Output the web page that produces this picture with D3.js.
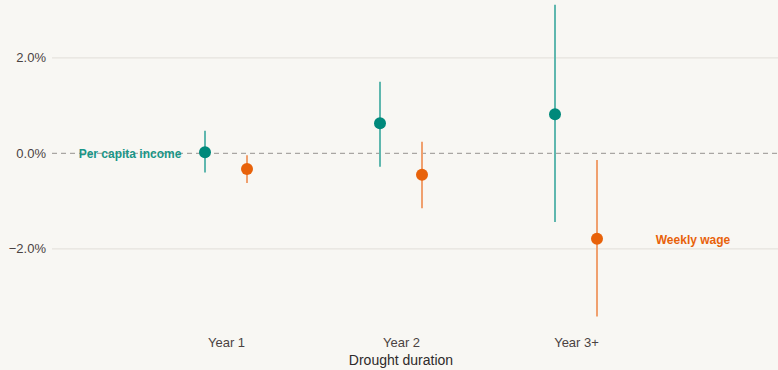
<!DOCTYPE html>
<html>
<head>
<meta charset="utf-8">
<script src="https://cdn.jsdelivr.net/npm/d3@7"></script>
<style>
  html, body { margin: 0; padding: 0; background: #f8f7f3; }
  svg { display: block; font-family: "Liberation Sans", Arial, sans-serif; }
</style>
</head>
<body>
<svg id="chart" width="778" height="370"></svg>
<script>
// Drought duration categories (x positions 1..3)
const categories = ["Year 1", "Year 2", "Year 3+"];

// Per capita income: estimate and 95% interval (percent)
const incomeEst = [0.02, 0.63, 0.82];
const incomeLo  = [-0.40, -0.28, -1.44];
const incomeHi  = [0.47, 1.50, 3.11];

// Weekly wage: estimate and 95% interval (percent)
const wageEst = [-0.33, -0.45, -1.79];
const wageLo  = [-0.62, -1.15, -3.42];
const wageHi  = [-0.04, 0.24, -0.14];

const yTicks = [-2, 0, 2];

const series = [
  { name: "Per capita income", est: incomeEst, lo: incomeLo, hi: incomeHi,
    color: "#00897b", light: "#5fb7ae", offset: -0.12 },
  { name: "Weekly wage", est: wageEst, lo: wageLo, hi: wageHi,
    color: "#e8620a", light: "#f0a06e", offset: 0.12 }
];

const svg = d3.select("#chart");
const W = 778, H = 370;

const x = d3.scaleLinear().domain([0, 4.15]).range([51, 777.25]);
const y = d3.scaleLinear().domain([-3.6, 3.2]).range([325.2, 0.5]);

svg.append("rect").attr("width", W).attr("height", H).attr("fill", "#f8f7f3");

// horizontal grid
svg.append("g").selectAll("line")
  .data(yTicks.filter(d => d !== 0))
  .join("line")
  .attr("x1", 52).attr("x2", W)
  .attr("y1", d => y(d)).attr("y2", d => y(d))
  .attr("stroke", "#e6e3de").attr("stroke-width", 1.2);

// zero reference line
svg.append("line")
  .attr("x1", 52).attr("x2", W)
  .attr("y1", y(0)).attr("y2", y(0))
  .attr("stroke", "#a9a6a3").attr("stroke-width", 1.2)
  .attr("stroke-dasharray", "5,4");

// y axis labels
const yAxis = d3.axisLeft(y).tickValues(yTicks)
  .tickFormat(d => (d < 0 ? "\u2212" : "") + Math.abs(d).toFixed(1) + "%")
  .tickSize(0).tickPadding(0);
const gy = svg.append("g").attr("transform", "translate(46,0)").call(yAxis);
gy.select(".domain").remove();
gy.selectAll("text").attr("fill", "#4a4242").attr("font-size", 13)
  .attr("font-family", "Liberation Sans, Arial, sans-serif");

// x axis labels
const xAxis = d3.axisBottom(x).tickValues([1, 2, 3])
  .tickFormat((d, i) => categories[i]).tickSize(0).tickPadding(0);
const gx = svg.append("g").attr("transform", "translate(0,338)").call(xAxis);
gx.select(".domain").remove();
gx.selectAll("text").attr("fill", "#4a4242").attr("font-size", 13)
  .attr("font-family", "Liberation Sans, Arial, sans-serif");

svg.append("text")
  .attr("x", x(2)).attr("y", 365)
  .attr("text-anchor", "middle")
  .attr("font-size", 14).attr("fill", "#2e2a2a")
  .text("Drought duration");

// intervals and points
series.forEach(s => {
  const g = svg.append("g");
  const idx = d3.range(categories.length);
  g.selectAll("line").data(idx).join("line")
    .attr("x1", i => x(i + 1 + s.offset)).attr("x2", i => x(i + 1 + s.offset))
    .attr("y1", i => y(s.hi[i])).attr("y2", i => y(s.lo[i]))
    .attr("stroke", s.light).attr("stroke-width", 2);
  g.selectAll("circle").data(idx).join("circle")
    .attr("cx", i => x(i + 1 + s.offset)).attr("cy", i => y(s.est[i]))
    .attr("r", 6).attr("fill", s.color);
});

// direct series labels
svg.append("text")
  .attr("x", 130).attr("y", y(0)).attr("dy", "0.35em")
  .attr("text-anchor", "middle").attr("font-size", 12).attr("font-weight", "bold")
  .attr("fill", "#1a9688").text("Per capita income");

svg.append("text")
  .attr("x", 693).attr("y", y(-1.82)).attr("dy", "0.35em")
  .attr("text-anchor", "middle").attr("font-size", 12).attr("font-weight", "bold")
  .attr("fill", "#e8620a").text("Weekly wage");
</script>
</body>
</html>
